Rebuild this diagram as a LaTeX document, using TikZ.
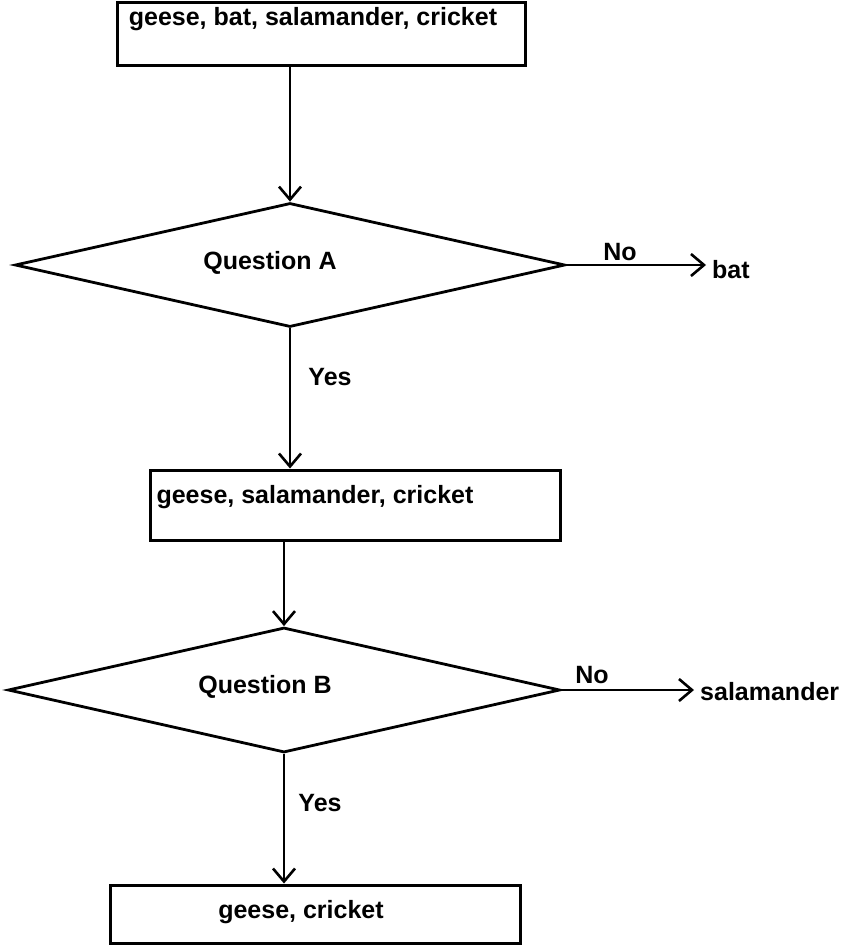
\documentclass[tikz,border=0pt]{standalone}
\usepackage{fontspec}
\setmainfont{Liberation Sans}
\usetikzlibrary{shapes.geometric,arrows.meta}
\begin{document}
\begin{tikzpicture}[x=1pt,y=-1pt,
  every node/.style={font=\fontsize{25}{28}\selectfont\bfseries},
  boxnode/.style={draw, line width=3pt, inner sep=0pt},
  decision/.style={draw, diamond, line width=2.8pt, inner sep=0pt},
  lbl/.style={inner sep=0pt},
  arr/.style={line width=2.8pt, -{Straight Barb[length=13pt,width=22pt,line width=2.6pt]}}]
\useasboundingbox (0,0) rectangle (854,945);
% boxes
\node[boxnode, minimum width=408pt, minimum height=63pt] (b1) at (321,33.5) {};
\node[lbl] (t1) at (313,19) {geese, bat, salamander, cricket};
\node[boxnode, minimum width=410pt, minimum height=70pt] (b2) at (355,505) {};
\node[lbl] (t2) at (315,497) {geese, salamander, cricket};
\node[boxnode, minimum width=410pt, minimum height=58pt] (b3) at (315,914) {};
\node[lbl] (t3) at (301,912) {geese, cricket};
% decisions
\node[decision, minimum width=550pt, minimum height=124pt] (dA) at (290,265) {};
\node[lbl] (qA) at (270,263) {Question A};
\node[decision, minimum width=552pt, minimum height=125pt] (dB) at (284,690) {};
\node[lbl] (qB) at (265,687) {Question B};
% outcomes
\node[lbl, anchor=west] (bat) at (712,270) {bat};
\node[lbl, anchor=west] (sal) at (700,692) {salamander};
% connectors
\draw[arr] (dA.north |- b1.south) -- (dA.north);
\draw[arr] (dA.south) -- (dA.south |- b2.north);
\draw[arr] (dB.north |- b2.south) -- (dB.north);
\draw[arr] (dB.south) -- (dB.south |- b3.north);
\draw[arr] (dA.east) -- ([xshift=-6pt]dA.east -| bat.west);
\draw[arr] (dB.east) -- ([xshift=-6pt]dB.east -| sal.west);
% labels
\node[lbl] (noA) at (620,252) {No};
\node[lbl] (yesA) at (330,377) {Yes};
\node[lbl] (noB) at (592,675) {No};
\node[lbl] (yesB) at (320,803) {Yes};
\end{tikzpicture}
\end{document}
